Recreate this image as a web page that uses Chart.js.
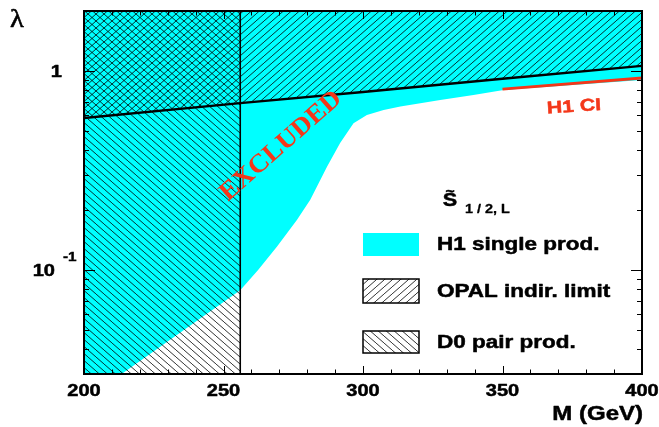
<!DOCTYPE html>
<html><head><meta charset="utf-8">
<script src="https://cdn.jsdelivr.net/npm/chart.js@4/dist/chart.umd.min.js"></script>
<style>html,body{margin:0;padding:0;background:#fff;}canvas{display:block;}</style>
</head><body>
<canvas id="c" width="659" height="427"></canvas>
<script>
// ---- data ----
const massRange = [200, 400];
const lambdaRange = [0.03, 2];
const h1Mass   = [200, 213.5, 256, 262.4, 269.2, 276.3, 281.1, 287.1, 291.8, 296.6, 301.4, 307.4, 313.4, 327.7, 339.6, 350.4, 375, 400];
const h1Lambda = [0.03, 0.03, 0.079, 0.100, 0.131, 0.178, 0.225, 0.330, 0.434, 0.546, 0.601, 0.637, 0.662, 0.714, 0.757, 0.803, 0.850, 0.900];
const opalMass   = [200, 256, 300, 350, 400];
const opalLambda = [0.58, 0.689, 0.784, 0.913, 1.06];
const d0Limit = 256;
const d0Mass   = [200, 256];
const d0Lambda = [2, 2];
const ciMass   = [350, 400];
const ciLambda = [0.81, 0.92];
const xTickValues = [200, 250, 300, 350, 400];
const xTickLabels = ['200', '250', '300', '350', '400'];
const xMinorStep = 10;
const yMajorValues = [0.1, 1];
const yTickBase = ['10', '1'];
const yTickExp  = ['-1', ''];
const legendTitle = ['S', '1 / 2, L'];
const legendLabels = ['H1 single prod.', 'OPAL indir. limit', 'D0 pair prod.'];
const xTitle = 'M (GeV)';
const yTitle = 'λ';
const regionLabel = 'EXCLUDED';
const ciLabel = 'H1 CI';

const CYAN = '#00ffff';
const RED = '#f4371a';
const SANS = "'Liberation Sans', Arial, sans-serif";
const SERIF = "'Liberation Serif', 'Times New Roman', serif";

const canvas = document.getElementById('c');
const ctx0 = canvas.getContext('2d');
function hatch(dir) {
  const w = 8, h = 7;
  const c = document.createElement('canvas'); c.width = w; c.height = h;
  const g = c.getContext('2d');
  g.strokeStyle = 'rgba(0,0,0,0.8)'; g.lineWidth = 1;
  for (let k = -1; k <= 1; k++) {
    g.beginPath();
    if (dir > 0) { g.moveTo(k * w, h); g.lineTo(k * w + w, 0); }
    else { g.moveTo(k * w, 0); g.lineTo(k * w + w, h); }
    g.stroke();
  }
  return ctx0.createPattern(c, 'repeat');
}
const hatchF = hatch(1);   // OPAL  ///
const hatchB = hatch(-1);  // D0    \\\
const zip = (xs, ys) => xs.map((x, i) => ({x, y: ys[i]}));

function txt(ctx, s, x, y, font, color, align, sx, rot, heavy) {
  ctx.save(); ctx.translate(x, y); if (rot) ctx.rotate(rot); ctx.scale(sx || 1, 1);
  ctx.font = font; ctx.fillStyle = color; ctx.textAlign = align || 'left'; ctx.textBaseline = 'middle';
  ctx.fillText(s, 0, 0);
  if (heavy) { ctx.strokeStyle = color; ctx.lineWidth = heavy; ctx.lineJoin = 'round'; ctx.strokeText(s, 0, 0); }
  ctx.restore();
}

const decor = {
  id: 'decor',
  afterDraw(chart) {
    const ctx = chart.ctx, a = chart.chartArea, xs = chart.scales.x, ys = chart.scales.y;
    ctx.save();
    // annotations in plot
    txt(ctx, regionLabel, 281, 146, 'bold 26px ' + SERIF, RED, 'center', 1.05, -0.722);
    txt(ctx, ciLabel, 574, 107, 'bold 17px ' + SANS, RED, 'center', 1.25, -0.07, 0.5);

    // frame
    ctx.strokeStyle = '#000';
    ctx.lineWidth = 2;
    ctx.strokeRect(a.left, a.top, a.right - a.left, a.bottom - a.top);
    // ticks
    ctx.lineWidth = 1;
    ctx.beginPath();
    for (let m = massRange[0]; m <= massRange[1]; m += xMinorStep) {
      const px = Math.round(xs.getPixelForValue(m)) + 0.5;
      const L = xTickValues.includes(m) ? 8 : 4.5;
      ctx.moveTo(px, a.bottom); ctx.lineTo(px, a.bottom - L);
      ctx.moveTo(px, a.top); ctx.lineTo(px, a.top + L);
    }
    for (let d = 0.01; d <= 1; d *= 10) {
      for (let k = 1; k <= 9; k++) {
        const v = k * d;
        if (v < lambdaRange[0] * 0.999 || v > lambdaRange[1] * 1.001) continue;
        const py = Math.round(ys.getPixelForValue(v)) + 0.5;
        const L = k === 1 ? 11 : 5;
        ctx.moveTo(a.left, py); ctx.lineTo(a.left + L, py);
        ctx.moveTo(a.right, py); ctx.lineTo(a.right - L, py);
      }
    }
    ctx.stroke();

    // tick labels
    xTickValues.forEach((v, i) => {
      txt(ctx, xTickLabels[i], xs.getPixelForValue(v), a.bottom + 17, 'bold 17px ' + SANS, '#000', 'center', 1.18, 0, 0.5);
    });
    yMajorValues.forEach((v, i) => {
      const py = ys.getPixelForValue(v);
      if (yTickExp[i]) {
        txt(ctx, yTickBase[i], 55, py + 1, 'bold 17px ' + SANS, '#000', 'right', 1.18, 0, 0.5);
        txt(ctx, yTickExp[i], 63, py - 13, 'bold 13px ' + SANS, '#000', 'left', 1.18, 0, 0.4);
      } else {
        txt(ctx, yTickBase[i], 62, py + 1, 'bold 17px ' + SANS, '#000', 'right', 1.18, 0, 0.5);
      }
    });
    txt(ctx, xTitle, a.right + 1, 414, 'bold 20px ' + SANS, '#000', 'right', 1.2, 0, 0.5);
    txt(ctx, yTitle, 17, 20, '26px ' + SERIF, '#000', 'center', 1.1, 0, 0.6);

    // legend
    txt(ctx, legendTitle[0], 450, 201, 'bold 18px ' + SANS, '#000', 'center', 1.2, 0, 0.5);
    txt(ctx, '~', 450, 192, 'bold 13px ' + SANS, '#000', 'center', 1.2, 0, 0.5);
    txt(ctx, legendTitle[1], 465, 210, 'bold 12px ' + SANS, '#000', 'left', 1.2, 0, 0.3);
    const bx = 363, bw = 56;
    const rows = [[233, 23, CYAN, false], [279, 24, hatchF, true], [331, 22, hatchB, true]];
    rows.forEach((r, i) => {
      ctx.fillStyle = '#fff'; ctx.fillRect(bx, r[0], bw, r[1]);
      ctx.fillStyle = r[2]; ctx.fillRect(bx, r[0], bw, r[1]);
      if (r[3]) { ctx.lineWidth = 1.5; ctx.strokeStyle = '#000'; ctx.strokeRect(bx, r[0], bw, r[1]); }
      txt(ctx, legendLabels[i], 437, r[0] + r[1] / 2 + 1, 'bold 18px ' + SANS, '#000', 'left', 1.25, 0, 0.5);
    });
    ctx.restore();
  }
};

new Chart(canvas, {
  type: 'line',
  data: {
    datasets: [
      {label: 'H1 CI', data: zip(ciMass, ciLambda), borderColor: RED, borderWidth: 3, pointRadius: 0, fill: false, order: 1},
      {label: 'D0 edge', data: [{x: d0Limit, y: lambdaRange[0]}, {x: d0Limit, y: lambdaRange[1]}], borderColor: '#000', borderWidth: 1.6, pointRadius: 0, fill: false, order: 2},
      {label: 'OPAL', data: zip(opalMass, opalLambda), borderColor: '#000', borderWidth: 2.4, pointRadius: 0, fill: 'end', backgroundColor: hatchF, order: 3},
      {label: 'D0', data: zip(d0Mass, d0Lambda), borderColor: 'rgba(0,0,0,0)', borderWidth: 0, pointRadius: 0, fill: 'start', backgroundColor: hatchB, order: 4},
      {label: 'H1', data: zip(h1Mass, h1Lambda), borderColor: 'rgba(0,0,0,0)', borderWidth: 0, pointRadius: 0, fill: 'end', backgroundColor: CYAN, order: 5}
    ]
  },
  options: {
    responsive: false,
    animation: false,
    devicePixelRatio: 1,
    layout: {padding: {left: 84, right: 17, top: 11, bottom: 53}},
    elements: {line: {tension: 0}},
    scales: {
      x: {type: 'linear', min: massRange[0], max: massRange[1], display: false},
      y: {type: 'logarithmic', min: lambdaRange[0], max: lambdaRange[1], display: false}
    },
    plugins: {legend: {display: false}, tooltip: {enabled: false}, filler: {drawTime: 'beforeDatasetsDraw'}}
  },
  plugins: [decor]
});
</script>
</body></html>
